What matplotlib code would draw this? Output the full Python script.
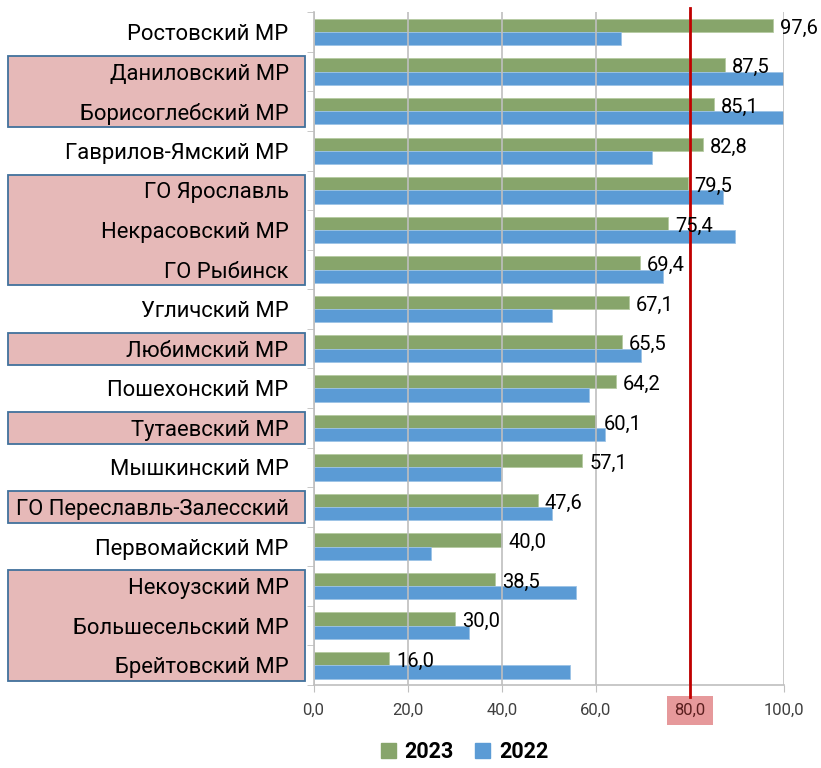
import matplotlib.pyplot as plt
import matplotlib.transforms as mtransforms
from matplotlib.patches import Rectangle, Patch

plt.rcParams['font.family'] = ['Roboto', 'DejaVu Sans']

# districts, top to bottom
districts = ["Ростовский МР", "Даниловский МР", "Борисоглебский МР",
             "Гаврилов-Ямский МР", "ГО Ярославль", "Некрасовский МР",
             "ГО Рыбинск", "Угличский МР", "Любимский МР", "Пошехонский МР",
             "Тутаевский МР", "Мышкинский МР", "ГО Переславль-Залесский",
             "Первомайский МР", "Некоузский МР", "Большесельский МР",
             "Брейтовский МР"]

values_2023 = [97.6, 87.5, 85.1, 82.8, 79.5, 75.4, 69.4, 67.1, 65.5,
               64.2, 60.1, 57.1, 47.6, 40.0, 38.5, 30.0, 16.0]
values_2022 = [65.3, 100.0, 100.0, 71.9, 87.0, 89.6, 74.3, 50.7, 69.5,
               58.5, 62.0, 39.8, 50.7, 24.9, 55.8, 33.1, 54.5]

# groups of labels highlighted with pink boxes (first, last index)
highlight_groups = [(1, 2), (4, 6), (8, 8), (10, 10), (12, 12), (14, 16)]

threshold = 80

green = "#87A56B"
blue = "#5B9BD5"
grey = "#BFBFBF"

fig = plt.figure(figsize=(8.21, 7.68), dpi=100)
ax = fig.add_axes([0.382, 0.108, 0.573, 0.876])

n = len(districts)
pos = list(range(n))
h = 0.335

ax.barh([p - h / 2 for p in pos], values_2023, height=h, color=green,
        edgecolor="#B5CBA2", linewidth=0.6, zorder=1)
ax.barh([p + h / 2 for p in pos], values_2022, height=h, color=blue,
        edgecolor="#9CC3E6", linewidth=0.6, zorder=1)

# data labels for 2023
for p, v in zip(pos, values_2023):
    ax.annotate(f"{v:.1f}".replace(".", ","), xy=(v, p - h / 2),
                xytext=(5, -2), textcoords="offset points",
                ha="left", va="center", fontsize=14.5, color="black",
                zorder=5, annotation_clip=False)

ax.set_xlim(0, 100)
ax.set_ylim(n - 0.5, -0.5)

ax.set_xticks([0, 20, 40, 60, 80, 100])
ax.set_xticklabels(["0,0", "20,0", "40,0", "60,0", "80,0", "100,0"],
                   fontsize=12, color="#404040")
ax.tick_params(axis="x", length=5, color=grey, pad=8)

ax.set_yticks(pos)
ax.set_yticklabels(districts, fontsize=15.8)
ax.tick_params(axis="y", length=0, pad=18)
ax.set_yticks([p - 0.5 for p in range(n + 1)], minor=True)
ax.tick_params(axis="y", which="minor", length=5, color=grey)

ax.set_axisbelow(False)
ax.grid(axis="x", color=grey, linewidth=1.2)
for s in ["top", "right"]:
    ax.spines[s].set_visible(False)
ax.spines["left"].set_color(grey)
ax.spines["bottom"].set_color(grey)
ax.spines["left"].set_linewidth(1.2)
ax.spines["bottom"].set_linewidth(1.2)

# threshold line
ax.axvline(threshold, ymin=-0.018, ymax=1.006, color="#C00000",
           linewidth=2, zorder=4, clip_on=False)

# pink background for the 80,0 tick label
lbl = ax.get_xticklabels()[4]
lbl.set_bbox(dict(facecolor="#E6999B", edgecolor="none", pad=5))
lbl.set_color("#5A1E1E")

# pink boxes behind highlighted district names
tr = mtransforms.blended_transform_factory(fig.transFigure, ax.transData)
for a, b in highlight_groups:
    y0 = a - 0.5 + 0.1
    y1 = b + 0.5 - 0.1
    ax.add_patch(Rectangle((8 / 821, y0), (305 - 8) / 821, y1 - y0,
                           transform=tr, facecolor="#E6B9B8",
                           edgecolor="#41719C", linewidth=1.3,
                           clip_on=False, zorder=0.5))

handles = [Patch(color=green, label="2023"), Patch(color=blue, label="2022")]
fig.legend(handles=handles, loc="center", bbox_to_anchor=(0.566, 0.021),
           ncol=2, frameon=False, prop={"weight": "bold", "size": 15.5},
           handlelength=0.7, handleheight=0.7, handletextpad=0.4,
           columnspacing=1.0)

fig.savefig("out.png", dpi=100)
